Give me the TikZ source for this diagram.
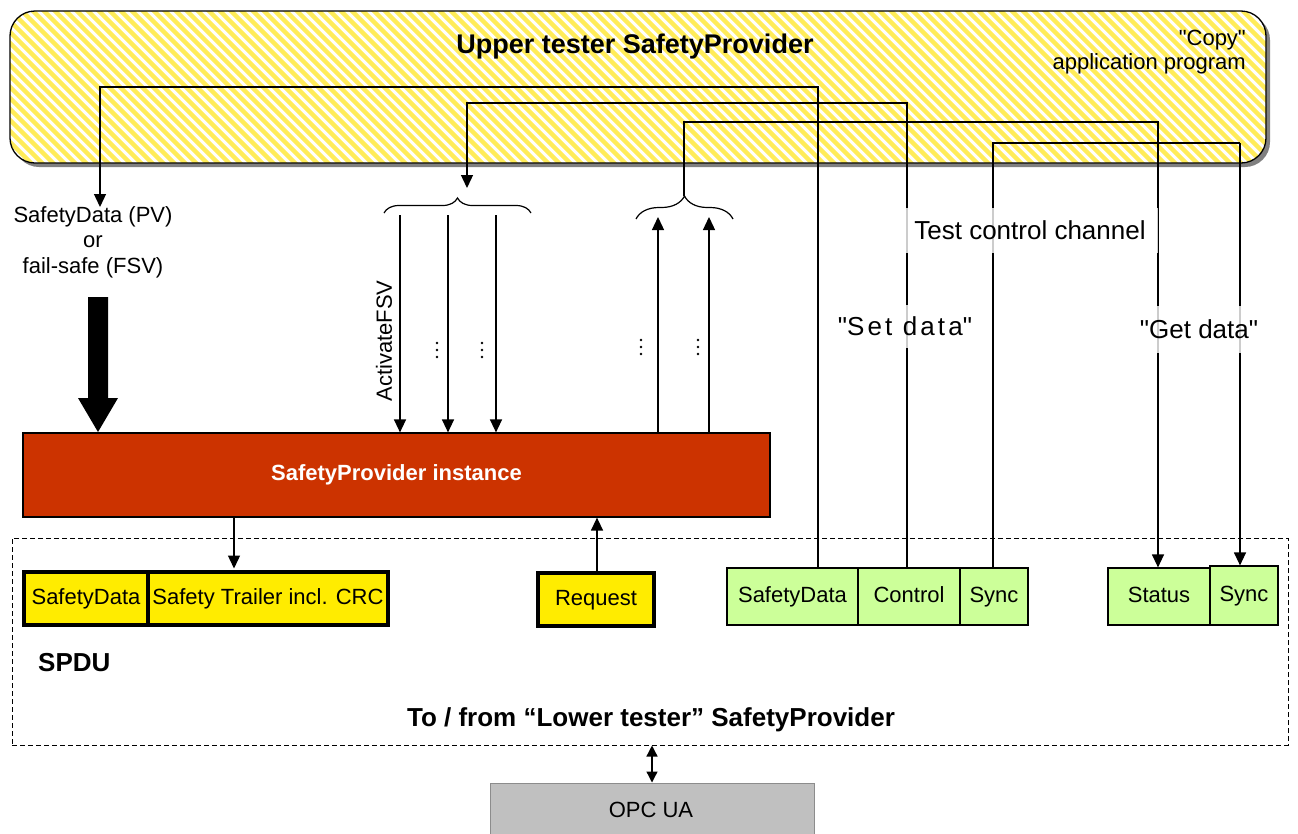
\documentclass[tikz,border=0pt]{standalone}
\usepackage{fontspec}
\setmainfont{Liberation Sans}
\usetikzlibrary{arrows.meta,decorations.pathreplacing}
\definecolor{stripeyellow}{RGB}{255,236,90}
\definecolor{provred}{RGB}{204,51,0}
\definecolor{pduyellow}{RGB}{255,236,0}
\definecolor{chgreen}{RGB}{204,255,153}
\definecolor{opcgray}{RGB}{192,192,192}
\definecolor{shadowgray}{RGB}{128,128,128}
\newcommand{\dq}{\textquotedbl}
\begin{document}
\begin{tikzpicture}[x=1pt,y=-1pt,
  every node/.style={font=\fontsize{22}{25.5}\selectfont},
  bigtext/.style={font=\fontsize{26}{30}\selectfont},
  boldbig/.style={font=\bfseries\fontsize{26}{30}\selectfont},
  wire/.style={line width=1.3pt},
  tip/.style={-{Triangle[length=13pt,width=12pt]}},
  pdubox/.style={draw=black,line width=4pt,fill=pduyellow,inner sep=0pt,minimum height=53pt,text height=16pt,text depth=5pt},
  chbox/.style={draw=black,line width=1.2pt,fill=chgreen,inner sep=0pt,minimum height=57pt,text height=16pt,text depth=5pt},
  veil/.style={fill=white,fill opacity=0.8,text opacity=1,inner ysep=0pt},
  vdot/.style={fill=black}
]
\useasboundingbox (0,0) rectangle (1298,833);

% upper tester: shadow, striped fill, outline
\fill[shadowgray,rounded corners=25pt] (14,15) rectangle (1270,167);
\fill[white,rounded corners=25pt] (10,11) rectangle (1266,163);
\begin{scope}
  \clip[rounded corners=25pt] (10,11) rectangle (1266,163);
  \foreach \k in {-15,...,116}
    \draw[stripeyellow,line width=4.3pt] ({\k*11-5},6) -- ({\k*11+157},168);
\end{scope}
\node[draw=black,line width=1.3pt,rounded corners=25pt,minimum width=1256pt,minimum height=152pt,inner sep=0pt] (upper) at (638,87) {};
\node[font=\bfseries\fontsize{27}{30}\selectfont] (title) at (635,47) {Upper tester SafetyProvider};
\node[align=right,anchor=north east,inner sep=0pt,font=\fontsize{22}{23.5}\selectfont] (copy) at (1246,30) {\dq Copy\dq\\application program};

% SafetyProvider instance
\node[draw=black,line width=1.2pt,fill=provred,minimum width=747pt,minimum height=84pt,inner sep=0pt,
      text=white,font=\bfseries\fontsize{22}{25}\selectfont] (inst) at (396.5,475) {SafetyProvider instance};

% process value input
\node[align=center,inner sep=0pt] (pv) at (93,242) {SafetyData (PV)\\or\\fail-safe (FSV)};
\fill[black] (88,297) -- (108,297) -- (108,398) -- (118,398) -- (98,432) -- (78,398) -- (88,398) -- cycle;

% lower side: SPDU and test channel frames
\node[draw=black,dash pattern=on 5pt off 3pt,line width=1pt,minimum width=1276pt,minimum height=207pt,inner sep=0pt] (lower) at (650,641.5) {};
\node[pdubox,minimum width=124pt] (sd) at (86,598.5) {SafetyData};
\node[pdubox,minimum width=240pt] (trl) at (268,598.5) {Safety Trailer incl. CRC};
\node[pdubox,minimum width=116pt] (req) at (596,599.5) {Request};
\node[chbox,minimum width=131pt] (gsd) at (792.5,596.5) {SafetyData};
\node[chbox,minimum width=102pt] (gctl) at (909,596.5) {Control};
\node[chbox,minimum width=68pt] (gsy) at (994,596.5) {Sync};
\node[chbox,minimum width=102pt] (gst) at (1159,596.5) {Status};
\node[chbox,minimum width=68pt,minimum height=59pt] (gsy2) at (1244,595.5) {Sync};
\node[boldbig,anchor=west,inner sep=0pt] (spdu) at (38,663) {SPDU};
\node[boldbig] (lowtxt) at (651,720) {To / from “Lower tester” SafetyProvider};
\node[draw=black!45,line width=1pt,fill=opcgray,minimum width=324pt,minimum height=58pt,inner sep=0pt] (opc) at (652,812) {};
\node (opctxt) at (651,810) {OPC UA};

% instance <-> SPDU
\coordinate (t1) at (234,0);
\draw[wire,tip,shorten >=1.5pt] (t1 |- inst.south) -- (t1 |- trl.north);
\coordinate (t2) at (597,0);
\draw[wire,tip] ([yshift=-2pt]t2 |- req.north) -- (t2 |- inst.south);
\draw[wire,{Triangle[length=11pt,width=11pt]}-{Triangle[length=11pt,width=11pt]}] (opc.north |- lower.south) -- (opc.north);

% inputs and outputs of the instance
\coordinate (d1) at (400,215);
\coordinate (d2) at (448,215);
\coordinate (d3) at (496,215);
\coordinate (u1) at (658,217);
\coordinate (u2) at (709,217);
\foreach \c in {d1,d2,d3} \draw[wire,tip] (\c) -- (\c |- inst.north);
\foreach \c in {u1,u2} \draw[wire,tip] (\c |- inst.north) -- (\c);
\node[rotate=90,inner sep=0pt] (afsv) at (384,341) {ActivateFSV};
\foreach \x/\y in {437/343,482/343,641/340,698/340}
  \foreach \s in {0,7,14} \fill[vdot] (\x,\y+\s) circle (1.3pt);
\draw[line width=1.2pt,decorate,decoration={brace,amplitude=15pt}] (384,213) -- (531,213);
\draw[line width=1.2pt,decorate,decoration={brace,amplitude=23pt}] (636,219) -- (733,219);

% test control channel wires
\coordinate (pvin) at (100,207);
\coordinate (j1) at (818,87);
\draw[wire,tip] ([xshift=25.5pt]gsd.north) |- (j1) -| (pvin);
\coordinate (b1) at (467,188);
\coordinate (j2) at (907,103);
\draw[wire,tip] ([xshift=-2pt]gctl.north) |- (j2) -| (b1);
\coordinate (b2) at (684,196);
\coordinate (j3) at (1158,122);
\draw[wire,tip] (b2) |- (j3) -- ([xshift=-1pt]gst.north);
\coordinate (j4) at (993,143);
\coordinate (j5) at (1240,143);
\draw[wire] ([xshift=-1pt]gsy.north) -- (j4) -- (j5);
\draw[wire,tip] (j5) -- ([xshift=-4pt]gsy2.north);

% channel labels over the wires
\node[bigtext,veil,inner xsep=12pt,minimum height=45pt] (tcc) at (1030,230) {Test control channel};
\node[bigtext,veil,inner xsep=14pt,minimum height=43pt] (setd) at (905,326) {\addfontfeature{LetterSpace=12}\dq Set data\dq};
\node[bigtext,veil,inner xsep=2pt,minimum height=47pt] (getd) at (1199,329) {\dq Get data\dq};
\end{tikzpicture}
\end{document}
